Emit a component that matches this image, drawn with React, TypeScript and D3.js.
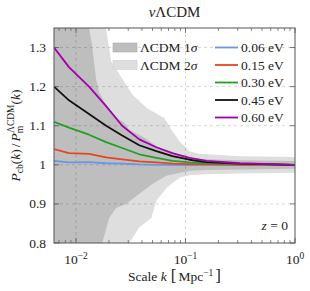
import React from 'react';
import * as d3 from 'd3';

// ---- data ----
const kGrid = [0.0063, 0.00863, 0.01316, 0.01884, 0.02642, 0.03785, 0.0542, 0.07598, 0.1089, 0.156, 0.3128, 1.0];
const ratio006 = [1.01, 1.006, 1.007, 1.004, 1.003, 1.001, 1.0, 1.0, 0.999, 1.0, 1.0, 1.0];
const ratio015 = [1.04, 1.03, 1.028, 1.019, 1.014, 1.009, 1.006, 1.003, 1.002, 1.001, 1.0, 1.0];
const ratio030 = [1.11, 1.095, 1.077, 1.058, 1.043, 1.027, 1.018, 1.01, 1.006, 1.004, 1.002, 1.0];
const ratio045 = [1.2, 1.165, 1.13, 1.1, 1.075, 1.05, 1.035, 1.022, 1.013, 1.007, 1.003, 1.0];
const ratio060 = [1.3, 1.25, 1.2, 1.15, 1.1, 1.065, 1.045, 1.03, 1.018, 1.01, 1.004, 1.0];

const sigma1UpperK = [0.0063, 0.01262, 0.01316, 0.01403, 0.01525, 0.01626, 0.02009, 0.0248, 0.02755, 0.03064, 0.04385, 0.05768, 0.0793, 0.1089, 0.156, 0.3128, 1.0];
const sigma1Upper = [1.6, 1.4, 1.35, 1.305, 1.22, 1.185, 1.14, 1.115, 1.108, 1.09, 1.067, 1.042, 1.028, 1.018, 1.014, 1.012, 1.01];
const sigma1LowerK = [0.0063, 0.01626, 0.01734, 0.02009, 0.02328, 0.02875, 0.03785, 0.04977, 0.0669, 0.1089, 0.156, 0.3128, 1.0];
const sigma1Lower = [0.4, 0.75, 0.8, 0.864, 0.89, 0.9, 0.926, 0.951, 0.972, 0.985, 0.987, 0.988, 0.99];
const sigma2UpperK = [0.0063, 0.01771, 0.01884, 0.02095, 0.02642, 0.03264, 0.04477, 0.0641, 0.0744, 0.0881, 0.1089, 0.1343, 0.3128, 1.0];
const sigma2Upper = [1.8, 1.45, 1.35, 1.264, 1.22, 1.18, 1.144, 1.12, 1.09, 1.06, 1.035, 1.028, 1.022, 1.02];
const sigma2LowerK = [0.0063, 0.02755, 0.03064, 0.03785, 0.04875, 0.0542, 0.0669, 0.0881, 0.1089, 0.156, 0.3128, 1.0];
const sigma2Lower = [0.3, 0.7, 0.8, 0.84, 0.864, 0.908, 0.941, 0.967, 0.973, 0.976, 0.978, 0.98];

const seriesLabels = ['0.06', '0.15', '0.30', '0.45', '0.60'];
const seriesValues = [ratio006, ratio015, ratio030, ratio045, ratio060];
const seriesColors = ['#6a96e6', '#e8451e', '#22a022', '#111111', '#a300a8'];

const yTicks = [0.8, 0.9, 1.0, 1.1, 1.2, 1.3];
const yTickLabels = ['0.8', '0.9', '1', '1.1', '1.2', '1.3'];
const xMajor = [0.01, 0.1, 1];
const xMajorExp = ['−2', '−1', '0'];

const FONT = "'Liberation Serif', 'DejaVu Serif', serif";
const DARK = '#bebebe';
const LIGHT = '#dedede';

export default function App() {
  const W = 310, H = 291;
  const L = 54, R = 295, T = 28, B = 243;
  const x = d3.scaleLog().domain([0.0063, 1]).range([L, R]);
  const y = d3.scaleLinear().domain([0.8, 1.35]).range([B, T]);
  const line = d3.line<[number, number]>();

  const band = (uk: number[], uv: number[], lk: number[], lv: number[]) => {
    const pts: [number, number][] = uk.map((k, i) => [x(k), y(uv[i])] as [number, number]);
    for (let i = lk.length - 1; i >= 0; i--) pts.push([x(lk[i]), y(lv[i])]);
    return line(pts) + 'Z';
  };

  const minor: number[] = [];
  for (let e = -3; e <= 0; e++) for (let m = 2; m <= 9; m++) {
    const v = m * Math.pow(10, e);
    if (v > 0.0063 && v < 1) minor.push(v);
  }

  const axisColor = '#555';
  const grid = 'rgba(0,0,0,0.2)';
  const rows = [47.5, 65, 82.5, 100, 117.5];
  const fs = 13.5;

  return (
    <svg width={W} height={H} style={{ position: 'absolute', left: 0, top: 0, fontFamily: FONT }}>
      <defs>
        <clipPath id="plotclip"><rect x={L} y={T} width={R - L} height={B - T} /></clipPath>
      </defs>
      <rect x={0} y={0} width={W} height={H} fill="#fff" />
      <g clipPath="url(#plotclip)">
        <path d={band(sigma2UpperK, sigma2Upper, sigma2LowerK, sigma2Lower)} fill={LIGHT} />
        <path d={band(sigma1UpperK, sigma1Upper, sigma1LowerK, sigma1Lower)} fill={DARK} />
        {xMajor.slice(0, 2).map((v, i) => (
          <line key={'gx' + i} x1={x(v)} x2={x(v)} y1={T} y2={B} stroke={grid} strokeWidth={0.8} strokeDasharray="3,3" />
        ))}
        {yTicks.slice(1).map((v, i) => (
          <line key={'gy' + i} x1={L} x2={R} y1={y(v)} y2={y(v)} stroke={grid} strokeWidth={0.8} strokeDasharray="3,3" />
        ))}
        {seriesValues.map((vals, si) => (
          <path key={'s' + si}
            d={line(kGrid.map((k, i) => [x(k), y(vals[i])] as [number, number])) || ''}
            fill="none" stroke={seriesColors[si]} strokeWidth={1.8} strokeLinejoin="round" />
        ))}
      </g>
      {minor.map((v, i) => (
        <g key={'mt' + i}>
          <line x1={x(v)} x2={x(v)} y1={B} y2={B - 3} stroke={axisColor} strokeWidth={0.7} />
          <line x1={x(v)} x2={x(v)} y1={T} y2={T + 3} stroke={axisColor} strokeWidth={0.7} />
        </g>
      ))}
      {xMajor.map((v, i) => (
        <g key={'xt' + i}>
          <line x1={x(v)} x2={x(v)} y1={B} y2={B - 5} stroke={axisColor} strokeWidth={0.8} />
          <line x1={x(v)} x2={x(v)} y1={T} y2={T + 5} stroke={axisColor} strokeWidth={0.8} />
          <text x={x(v)} y={264} textAnchor="middle" fontSize={fs} fill="#222">
            10<tspan dy={-5} fontSize={9.5}>{xMajorExp[i]}</tspan>
          </text>
        </g>
      ))}
      {yTicks.map((v, i) => (
        <g key={'yt' + i}>
          <line x1={L} x2={L + 5} y1={y(v)} y2={y(v)} stroke={axisColor} strokeWidth={0.8} />
          <line x1={R} x2={R - 5} y1={y(v)} y2={y(v)} stroke={axisColor} strokeWidth={0.8} />
          <text x={46} y={y(v) + 4.5} textAnchor="end" fontSize={fs} fill="#222">{yTickLabels[i]}</text>
        </g>
      ))}
      <rect x={L} y={T} width={R - L} height={B - T} fill="none" stroke={axisColor} strokeWidth={1} />

      <text x={(L + R) / 2} y={17} textAnchor="middle" fontSize={15} fill="#222">
        <tspan fontStyle="italic">ν</tspan>ΛCDM
      </text>

      <text transform={`translate(20,${(T + B) / 2}) rotate(-90)`} textAnchor="middle" fontSize={fs} fill="#222">
        <tspan fontStyle="italic">P</tspan>
        <tspan dy={3} fontSize={9.5}>cb</tspan>
        <tspan dy={-3}>(</tspan><tspan fontStyle="italic">k</tspan><tspan>)</tspan>
        <tspan dx={2}>/</tspan>
        <tspan dx={2} fontStyle="italic">P</tspan>
        <tspan dy={3} fontSize={9.5}>m</tspan>
        <tspan dy={-9} dx={-7} fontSize={9.5}>ΛCDM</tspan>
        <tspan dy={6}>(</tspan><tspan fontStyle="italic">k</tspan><tspan>)</tspan>
      </text>

      <text x={(L + R) / 2} y={281} textAnchor="middle" fontSize={fs} fill="#222">
        Scale <tspan fontStyle="italic">k</tspan>
        <tspan dx={4} fontSize={17}>[</tspan>
        <tspan dx={2}>Mpc</tspan>
        <tspan dy={-5} fontSize={9.5}>−1</tspan>
        <tspan dy={5} dx={2} fontSize={17}>]</tspan>
      </text>

      <text x={288} y={230} textAnchor="end" fontSize={fs} fill="#222">
        <tspan fontStyle="italic">z</tspan> = 0
      </text>

      <rect x={113} y={rows[0] - 4.5} width={24} height={9} fill={DARK} stroke="#aaa" strokeWidth={0.6} />
      <text x={140} y={rows[0] + 4.5} fontSize={fs} fill="#222">ΛCDM 1<tspan fontStyle="italic">σ</tspan></text>
      <rect x={113} y={rows[1] - 4.5} width={24} height={9} fill={LIGHT} stroke="#d0d0d0" strokeWidth={0.6} />
      <text x={140} y={rows[1] + 4.5} fontSize={fs} fill="#222">ΛCDM 2<tspan fontStyle="italic">σ</tspan></text>
      {seriesLabels.map((lab, i) => (
        <g key={'lg' + i}>
          <line x1={215} x2={238} y1={rows[i]} y2={rows[i]} stroke={seriesColors[i]} strokeWidth={1.8} />
          <text x={241} y={rows[i] + 4.5} fontSize={fs} fill="#222">{lab} eV</text>
        </g>
      ))}
    </svg>
  );
}
